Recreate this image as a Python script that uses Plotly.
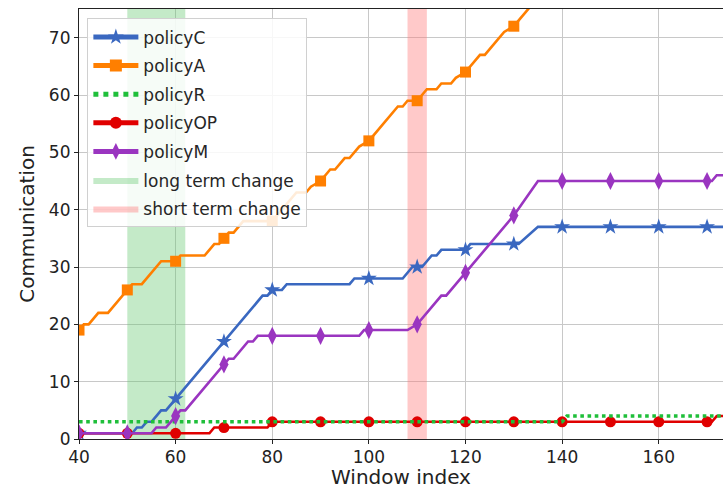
import plotly.graph_objects as go

# ---- data (window index -> communication), breakpoints ----
c_x = [40, 51, 52, 53, 54, 55, 56, 57, 58, 60, 70, 78, 79, 80, 82, 83, 96, 97, 100, 107, 109, 110, 111, 112, 113, 114, 115, 120, 121, 130, 131, 135, 140, 150, 160, 170, 174]
c_y = [1, 1, 2, 2, 3, 3, 4, 5, 5, 7, 17, 25, 25, 26, 26, 27, 27, 28, 28, 28, 30, 30, 30, 31, 32, 32, 33, 33, 34, 34, 34, 37, 37, 37, 37, 37, 37]

a_x = [40, 41, 42, 43, 44, 46, 47, 48, 49, 50, 51, 53, 54, 55, 56, 57, 60, 61, 66, 67, 68, 69, 70, 71, 72, 73, 74, 80, 81, 82, 83, 84, 85, 87, 88, 90, 91, 92, 93, 94, 95, 96, 97, 98, 100, 101, 102, 103, 104, 105, 106, 107, 108, 110, 111, 112, 114, 115, 117, 118, 120, 121, 122, 123, 124, 125, 126, 127, 128, 130, 131, 132, 133, 134, 135, 140, 150, 160, 170, 174]
a_y = [19, 20, 20, 21, 22, 22, 23, 24, 25, 26, 27, 27, 28, 29, 30, 31, 31, 32, 32, 33, 34, 34, 35, 36, 36, 37, 38, 38, 39, 40, 41, 42, 43, 43, 44, 45, 46, 47, 47, 48, 49, 49, 50, 51, 52, 53, 54, 55, 56, 57, 58, 58, 59, 59, 60, 61, 61, 62, 62, 63, 64, 65, 66, 67, 67, 68, 69, 70, 71, 72, 73, 74, 75, 76, 77, 80, 87, 94, 100, 103]

r_x = [40, 140, 141, 174]
r_y = [3, 3, 4, 4]

op_x = [40, 50, 60, 67, 68, 70, 79, 80, 90, 100, 110, 120, 130, 140, 150, 160, 170, 171, 172, 174]
op_y = [1, 1, 1, 1, 2, 2, 2, 3, 3, 3, 3, 3, 3, 3, 3, 3, 3, 3, 4, 4]

m_x = [40, 50, 55, 56, 58, 59, 60, 61, 62, 70, 71, 72, 75, 76, 77, 80, 90, 98, 99, 100, 108, 110, 115, 116, 120, 130, 135, 140, 150, 160, 170, 171, 172, 174]
m_y = [1, 1, 1, 2, 2, 3, 4, 5, 5, 13, 14, 14, 17, 17, 18, 18, 18, 18, 19, 19, 19, 20, 25, 25, 29, 39, 45, 45, 45, 45, 45, 45, 46, 46]

long_term = [50, 62]
short_term = [108, 112]

x_range = [40, 173.3]
y_range = [0, 75]
y_ticks = [0, 10, 20, 30, 40, 50, 60, 70]
x_ticks = [40, 60, 80, 100, 120, 140, 160]

FONT = "DejaVu Sans"

def marker_sizes(xs, size):
    return [size if x % 10 == 0 else 0 for x in xs]

fig = go.Figure()

# shaded change regions (drawn first, behind lines)
for rng, name, col, rank in [(long_term, "long term change", "rgba(100,200,110,0.38)", 6),
                             (short_term, "short term change", "rgba(255,120,120,0.40)", 7)]:
    fig.add_trace(go.Scatter(
        x=[rng[0], rng[1], rng[1], rng[0], rng[0]],
        y=[y_range[0] - 5, y_range[0] - 5, y_range[1] + 5, y_range[1] + 5, y_range[0] - 5],
        mode="lines", fill="toself", fillcolor=col, line=dict(width=0, color=col),
        name=name, legendrank=rank, legendgroup=name, hoverinfo="skip"))

series = [
    ("policyC", c_x, c_y, "#3a68c0", "star", 12, "solid", 1),
    ("policyA", a_x, a_y, "#ff7f00", "square", 11, "solid", 2),
    ("policyOP", op_x, op_y, "#e00000", "circle", 11, "solid", 4),
    ("policyR", r_x, r_y, "#1fbf3a", "circle", 0, "dot", 3),
    ("policyM", m_x, m_y, "#9a35c0", "diamond-tall", 13, "solid", 5),
]
for name, xs, ys, col, sym, sz, dash, rank in series:
    fig.add_trace(go.Scatter(
        x=xs, y=ys, name=name, legendrank=rank, legendgroup=name,
        mode="lines+markers" if sz else "lines",
        line=dict(color=col, width=2.6 if dash == "solid" else 3.6, dash=dash),
        marker=dict(symbol=sym, size=marker_sizes(xs, sz) if sz else 0, color=col,
                    opacity=1, line=dict(width=0)),
        opacity=1,
    ))

axis_common = dict(
    showgrid=True, gridcolor="#c8c8c8", gridwidth=1,
    showline=True, linecolor="#222222", linewidth=1.2, mirror=True,
    ticks="outside", ticklen=4, tickcolor="#222222",
    tickfont=dict(family=FONT, size=17, color="#222222"),
    zeroline=False,
)
fig.update_xaxes(range=x_range, tickvals=x_ticks, ticklabelstandoff=-2, **axis_common)
fig.update_yaxes(range=y_range, tickvals=y_ticks, **axis_common,
                 title=dict(text="Communication", font=dict(family=FONT, size=20, color="#222222"), standoff=8))

plot_h = 489 - 9 - 50
fig.add_annotation(text="Window index", xref="paper", yref="paper",
                   x=0.5 * (723 - 79) / 644, y=-50.0 / plot_h, xanchor="center", yanchor="bottom",
                   yshift=-1, showarrow=False, borderpad=0,
                   font=dict(family=FONT, size=20, color="#222222"))

fig.update_layout(
    width=723, height=489,
    margin=dict(l=79, r=0, t=9, b=50, autoexpand=False),
    plot_bgcolor="white", paper_bgcolor="white",
    font=dict(family=FONT, color="#222222"),
    legend=dict(x=0.013, y=0.978, xanchor="left", yanchor="top",
                bgcolor="rgba(255,255,255,0.85)", bordercolor="#d0d0d0", borderwidth=1,
                font=dict(family=FONT, size=17, color="#262626"),
                itemwidth=45, itemsizing="constant", tracegroupgap=3.5),
    showlegend=True,
)

fig.write_html("out.html")
